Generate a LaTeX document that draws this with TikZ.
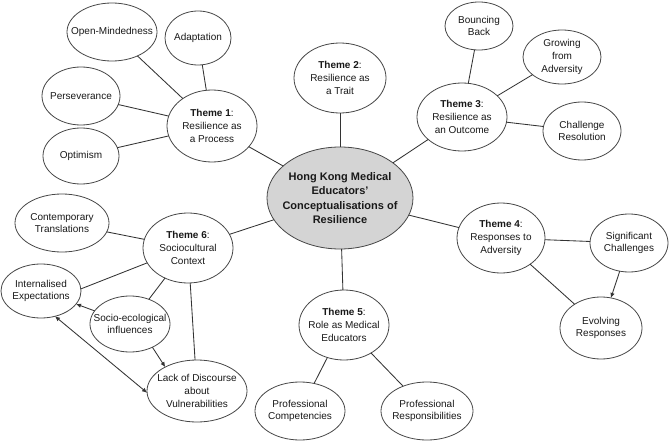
\documentclass[tikz,border=0pt]{standalone}
\usepackage{fontspec}
\setmainfont{Liberation Sans}
\usetikzlibrary{shapes.geometric,arrows.meta}
\tikzset{
  bubble/.style={draw=black!72, line width=0.8pt, fill=white, ellipse, inner sep=0pt, outer sep=0pt},
  txt/.style={align=center, font=\fontsize{10}{12.6}\selectfont, inner sep=0pt, text=black!90},
  con/.style={draw=black!80, line width=0.85pt},
  arr/.style={con, -{Latex[length=5pt,width=4.5pt]}},
  darr/.style={con, {Latex[length=5pt,width=4.5pt]}-{Latex[length=5pt,width=4.5pt]}}
}
\newcommand\mybub[6]{\node[bubble,minimum width=#4pt,minimum height=#5pt] (#1) at (#2,#3) {};
  \node[txt] (#1t) at (#1) {#6};}
\begin{document}
\begin{tikzpicture}[x=1pt,y=-1pt]
\fill[white] (0,0) rectangle (669,441);
\useasboundingbox (0,0) rectangle (669,441);
% centre
\node[bubble, fill=black!17, minimum width=146pt, minimum height=102pt] (c) at (340,198) {};
\node[txt, font=\fontsize{11}{14.3}\selectfont\bfseries] (ct0) at (c) {Hong Kong Medical\\Educators'\\Conceptualisations of\\Resilience};
% themes
\mybub{t1}{212}{126}{90}{72}{\textbf{Theme 1}:\\Resilience as\\a Process}
\mybub{t2}{340}{78}{92}{70}{\textbf{Theme 2}:\\Resilience as\\a Trait}
\mybub{t3}{462}{117}{90}{68}{\textbf{Theme 3}:\\Resilience as\\an Outcome}
\mybub{t4}{501}{238}{88}{70}{\textbf{Theme 4}:\\Responses to\\Adversity}
\mybub{t5}{344}{325}{90}{70}{\textbf{Theme 5}:\\Role as Medical\\Educators}
\mybub{t6}{188}{248}{90}{70}{\textbf{Theme 6}:\\Sociocultural\\Context}
% theme 1 subs
\mybub{om}{112}{32}{90}{58}{Open-Mindedness}
\mybub{ad}{198}{38}{66}{54}{Adaptation}
\mybub{pe}{81}{96}{78}{58}{Perseverance}
\mybub{op}{81}{156}{76}{56}{Optimism}
% theme 3 subs
\mybub{bb}{479}{26}{68}{48}{Bouncing\\Back}
\mybub{ga}{562}{57}{78}{54}{Growing\\from\\Adversity}
\mybub{cr}{582}{131}{78}{58}{Challenge\\Resolution}
% theme 4 subs
\mybub{sc}{629}{243}{78}{58}{Significant\\Challenges}
\mybub{er}{601}{328}{82}{62}{Evolving\\Responses}
% theme 5 subs
\mybub{pc}{300}{411}{90}{58}{Professional\\Competencies}
\mybub{pr}{427}{411}{92}{58}{Professional\\Responsibilities}
% theme 6 subs
\mybub{cot}{62}{223}{94}{58}{Contemporary\\Translations}
\mybub{ie}{41}{291}{80}{54}{Internalised\\Expectations}
\mybub{se}{130}{324}{80}{56}{Socio-ecological\\influences}
\mybub{ld}{197}{391}{100}{62}{Lack of Discourse\\about\\Vulnerabilities}
% connectors
\draw[con] (c) -- (t1);
\draw[con] (c) -- (t2);
\draw[con] (c) -- (t3);
\draw[con] (c) -- (t4);
\draw[con] (c) -- (t5);
\draw[con] (c) -- (t6);
\draw[con] (t1) -- (om);
\draw[con] (t1) -- (ad);
\draw[con] (t1) -- (pe);
\draw[con] (t1) -- (op);
\draw[con] (t3) -- (bb);
\draw[con] (t3) -- (ga);
\draw[con] (t3) -- (cr);
\draw[con] (t4) -- (sc);
\draw[con] (t4) -- (er);
\draw[arr] (sc) -- (er);
\draw[con] (t5) -- (pc);
\draw[con] (t5) -- (pr);
\draw[con] (t6) -- (cot);
\draw[con] (t6.200) -- (ie.3);
\draw[con] (t6) -- (se);
\draw[con] (t6) -- (ld);
\draw[arr] (se) -- (ie);
\draw[arr] (se.-46) -- (ld.143);
\draw[darr] (ie.-61) -- (ld.182);
\end{tikzpicture}
\end{document}
